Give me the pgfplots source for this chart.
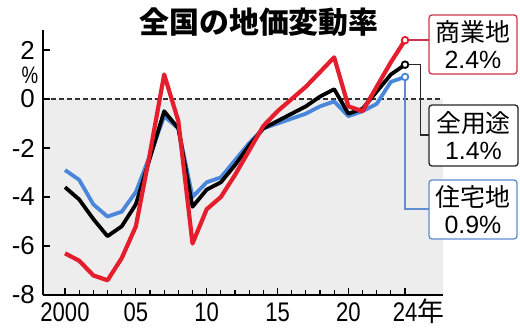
\documentclass[border=0pt]{standalone}
\usepackage{pgfplots}
\pgfplotsset{compat=1.18}
\usepackage{fontspec}
\setmainfont{Liberation Sans}
\newfontfamily\jp{Noto Sans CJK JP}
\definecolor{cred}{RGB}{228,30,45}
\definecolor{cblue}{RGB}{74,134,217}
\definecolor{cbg}{RGB}{237,237,237}
\definecolor{bred}{RGB}{205,55,75}
\definecolor{bblue}{RGB}{95,140,210}
\begin{document}
\begin{tikzpicture}
\useasboundingbox (0,0) rectangle (520bp,329bp);
\begin{axis}[
  at={(43bp,34bp)}, anchor=south west, scale only axis,
  width=400bp, height=265bp,
  xmin=1998.447, xmax=2026.68, ymin=-8, ymax=2.816,
  axis lines*=left, axis line style={line width=1.5bp, -},
  clip=false, axis on top,
  tick align=inside, major tick length=7.5bp, minor tick length=5bp,
  every tick/.append style={black, line width=1.2bp},
  xtick={2000,2005,2010,2015,2020,2024},
  minor xtick={2001,2002,2003,2004,2006,2007,2008,2009,2011,2012,2013,2014,2016,2017,2018,2019,2021,2022,2023},
  xticklabels={\scalebox{0.82}[1]{2000},\scalebox{0.82}[1]{05},\scalebox{0.82}[1]{10},\scalebox{0.82}[1]{15},\scalebox{0.82}[1]{20},\scalebox{0.82}[1]{24}\rlap{\smash{\jp 年}}},
  xticklabel style={font=\fontsize{27}{27}\selectfont, anchor=north, inner sep=0pt},
  xticklabel shift=7.5bp,
  ytick={-8,-6,-4,-2,0,2},
  yticklabels={-8,-6,-4,-2,0,2},
  yticklabel style={font=\fontsize{26}{26}\selectfont, anchor=east, inner sep=0pt},
  yticklabel shift=8bp,
]
\fill[cbg] (axis cs:1998.447,-8) rectangle (axis cs:2026.68,0);
\draw[black!80, line width=1.1bp, dash pattern=on 5bp off 3bp] (axis cs:1998.447,0) -- (axis cs:2026.68,0);
\addplot[cblue, line width=3.8bp, line join=round] coordinates {
(2000,-2.9)(2001,-3.3)(2002,-4.3)(2003,-4.8)(2004,-4.6)(2005,-3.8)(2006,-2.3)(2007,-0.7)(2008,-1.2)(2009,-4.0)(2010,-3.4)(2011,-3.2)(2012,-2.5)(2013,-1.8)(2014,-1.2)(2015,-1.0)(2016,-0.8)(2017,-0.6)(2018,-0.3)(2019,-0.1)(2020,-0.7)(2021,-0.5)(2022,-0.2)(2023,0.7)(2024,0.9)};
\addplot[black, line width=3.8bp, line join=round] coordinates {
(2000,-3.6)(2001,-4.1)(2002,-4.9)(2003,-5.6)(2004,-5.2)(2005,-4.3)(2006,-2.4)(2007,-0.5)(2008,-1.2)(2009,-4.4)(2010,-3.7)(2011,-3.4)(2012,-2.7)(2013,-1.9)(2014,-1.2)(2015,-0.9)(2016,-0.6)(2017,-0.3)(2018,0.1)(2019,0.4)(2020,-0.6)(2021,-0.4)(2022,0.3)(2023,1.0)(2024,1.4)};
\addplot[cred, line width=4.2bp, line join=round] coordinates {
(2000,-6.3)(2001,-6.6)(2002,-7.2)(2003,-7.4)(2004,-6.5)(2005,-5.2)(2006,-2.2)(2007,1.0)(2008,-0.9)(2009,-5.9)(2010,-4.5)(2011,-4.0)(2012,-3.1)(2013,-2.1)(2014,-1.1)(2015,-0.5)(2016,0.0)(2017,0.5)(2018,1.1)(2019,1.7)(2020,-0.3)(2021,-0.5)(2022,0.5)(2023,1.5)(2024,2.4)};
\draw[bred, line width=1.4bp] (axis cs:2024,2.4) -- (axis cs:2025.7,2.4);
\draw[black!85, line width=1.4bp] (axis cs:2024,1.4) -| (axis cs:2025.09,-1.47) -- (axis cs:2025.7,-1.47);
\draw[bblue, line width=1.4bp] (axis cs:2024,0.9) |- (axis cs:2025.7,-4.49);
\addplot[only marks, mark=*, mark size=3.3bp, mark options={fill=white, draw=cred, line width=1.8bp}] coordinates {(2024,2.4)};
\addplot[only marks, mark=*, mark size=3.3bp, mark options={fill=white, draw=black, line width=1.8bp}] coordinates {(2024,1.4)};
\addplot[only marks, mark=*, mark size=3.3bp, mark options={fill=white, draw=cblue, line width=1.8bp}] coordinates {(2024,0.9)};
\end{axis}
\node[font=\fontsize{24}{24}\selectfont, inner sep=0pt] at (30bp,254bp) {\scalebox{0.78}[1]{\%}};
\node[font=\jp\bfseries\fontsize{30}{30}\selectfont, inner sep=0pt] at (259bp,307bp) {全国の地価変動率};
\node[draw=bred, line width=1.3bp, rounded corners=3bp, fill=white, minimum width=88bp, minimum height=59bp, inner sep=0pt, align=center, font=\fontsize{25}{27}\selectfont] at (473bp,284.5bp) {{\jp 商業地}\\2.4\%};
\node[draw=black!85, line width=1.3bp, rounded corners=3bp, fill=white, minimum width=89bp, minimum height=61bp, inner sep=0pt, align=center, font=\fontsize{25}{27}\selectfont] at (473.5bp,193.5bp) {{\jp 全用途}\\1.4\%};
\node[draw=bblue, line width=1.3bp, rounded corners=3bp, fill=white, minimum width=88bp, minimum height=59bp, inner sep=0pt, align=center, font=\fontsize{25}{27}\selectfont] at (473bp,119.5bp) {{\jp 住宅地}\\0.9\%};
\end{tikzpicture}
\end{document}
